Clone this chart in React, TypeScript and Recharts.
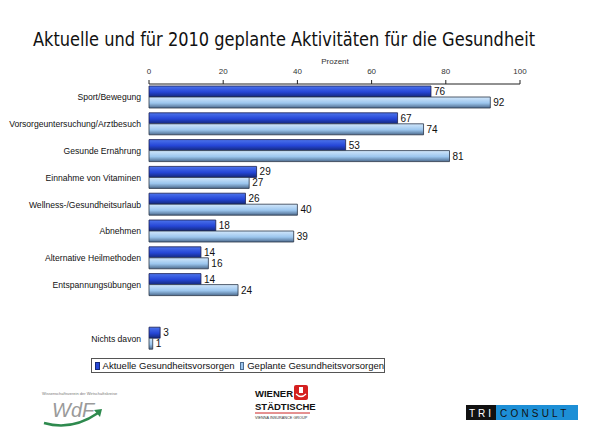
import React from "react";
import { BarChart, Bar, XAxis, YAxis, LabelList } from "recharts";

const categories = [
  "Sport/Bewegung",
  "Vorsorgeuntersuchung/Arztbesuch",
  "Gesunde Ernährung",
  "Einnahme von Vitaminen",
  "Wellness-/Gesundheitsurlaub",
  "Abnehmen",
  "Alternative Heilmethoden",
  "Entspannungsübungen",
  "",
  "Nichts davon",
];
const aktuelle: (number | null)[] = [76, 67, 53, 29, 26, 18, 14, 14, null, 3];
const geplante: (number | null)[] = [92, 74, 81, 27, 40, 39, 16, 24, null, 1];
const xTicks = [0, 20, 40, 60, 80, 100];
const seriesNames = ["Aktuelle Gesundheitsvorsorgen", "Geplante Gesundheitsvorsorgen"];
const title = "Aktuelle und für 2010 geplante Aktivitäten für die Gesundheit";
const axisTitle = "Prozent";

const data = categories.map((c, i) => ({ cat: c, a: aktuelle[i], g: geplante[i] }));

const font = "'Liberation Sans', Arial, sans-serif";

const YTick = (props: any) => {
  const { x, y, payload } = props;
  return (
    <text x={x} y={y} dy={3} textAnchor="end" fontSize={8.6} fill="#111" fontFamily={font}>
      {payload.value}
    </text>
  );
};

export default function App() {
  return (
    <div style={{ position: "absolute", left: 0, top: 0, width: 596, height: 433, background: "#fff", fontFamily: font }}>
      <BarChart
        width={596}
        height={433}
        data={data}
        layout="vertical"
        margin={{ top: 54, right: 76, bottom: 81, left: 0 }}
        barGap={0}
        barSize={11}
        style={{ position: "absolute", left: 0, top: 0 }}
      >
        <defs>
          <linearGradient id="gA" x1="0" y1="0" x2="0" y2="1">
            <stop offset="0%" stopColor="#4d74ec" />
            <stop offset="55%" stopColor="#2546d6" />
            <stop offset="100%" stopColor="#14287a" />
          </linearGradient>
          <linearGradient id="gG" x1="0" y1="0" x2="0" y2="1">
            <stop offset="0%" stopColor="#d2e7fb" />
            <stop offset="55%" stopColor="#9cc6ee" />
            <stop offset="100%" stopColor="#4d6b8e" />
          </linearGradient>
        </defs>
        <XAxis
          type="number"
          orientation="top"
          domain={[0, 100]}
          ticks={xTicks}
          height={30}
          tickSize={4}
          tickMargin={6}
          stroke="#222"
          tick={{ fontSize: 8, fill: "#333", fontFamily: font }}
        />
        <YAxis
          type="category"
          dataKey="cat"
          width={149}
          axisLine={false}
          tickLine={false}
          tick={<YTick />}
          interval={0}
        />
        <Bar dataKey="a" fill="url(#gA)" stroke="#1a2050" strokeWidth={0.8} isAnimationActive={false}>
          <LabelList dataKey="a" position="right" offset={3} fontSize={10} fill="#111" fontFamily={font} />
        </Bar>
        <Bar dataKey="g" fill="url(#gG)" stroke="#2a3548" strokeWidth={0.8} isAnimationActive={false}>
          <LabelList dataKey="g" position="right" offset={3} fontSize={10} fill="#111" fontFamily={font} />
        </Bar>
      </BarChart>
      <svg width={596} height={70} style={{ position: "absolute", left: 0, top: 0 }}>
        <text x={33} y={46} fontSize={20} fill="#111" fontFamily="'Liberation Sans Narrow', 'DejaVu Sans Condensed', 'Liberation Sans', sans-serif" textLength={502} lengthAdjust="spacingAndGlyphs">
          {title}
        </text>
        <text x={335} y={64} textAnchor="middle" fontSize={8} fill="#333" fontFamily={font}>
          {axisTitle}
        </text>
      </svg>
      <div
        style={{
          position: "absolute",
          left: 91,
          top: 358,
          width: 292,
          height: 13,
          border: "1px solid #555",
          fontSize: 9.5,
          lineHeight: "13px",
          display: "flex",
          alignItems: "center",
          whiteSpace: "nowrap",
          color: "#111",
        }}
      >
        <span style={{ display: "inline-block", width: 6, height: 6, background: "#2546d6", border: "1px solid #14287a", marginLeft: 3, marginRight: 3 }} />
        <span>{seriesNames[0]}</span>
        <span style={{ display: "inline-block", width: 6, height: 6, background: "#9cc6ee", border: "1px solid #4d6b8e", marginLeft: 5, marginRight: 3 }} />
        <span>{seriesNames[1]}</span>
      </div>
      <svg width={596} height={70} style={{ position: "absolute", left: 0, top: 363 }}>
        <text x={42} y={32} fontSize={4} fill="#777" fontFamily={font}>Wissenschaftsverein der Wirtschaftskreise</text>
        <text x={52} y={54} fontSize={20} fontStyle="italic" fill="#9a9a9a" fontFamily={font}>WdF</text>
        <path d="M 44 60 Q 72 68 98 50" stroke="#2e8a4e" strokeWidth={2.5} fill="none" />
        <path d="M 94 47 L 102 46 L 100 54 Z" fill="#2e8a4e" />
        <text x={255} y={34} fontSize={9.5} fontWeight="bold" fill="#111" fontFamily={font}>WIENER</text>
        <rect x={294} y={22} width={14} height={15} rx={2} fill="#d42020" />
        <rect x={299} y={24} width={4} height={6} fill="#fff" />
        <path d="M 296 31 Q 301 36 306 31" stroke="#fff" strokeWidth={1.2} fill="none" />
        <text x={255} y={47} fontSize={9.5} fontWeight="bold" fill="#111" fontFamily={font}>STÄDTISCHE</text>
        <line x1={255} y1={50} x2={310} y2={50} stroke="#c22" strokeWidth={1} />
        <text x={255} y={56} fontSize={3.8} fill="#333" fontFamily={font}>VIENNA INSURANCE GROUP</text>
        <rect x={466} y={42} width={30} height={15} fill="#111" />
        <text x={469} y={53.5} fontSize={10} fill="#fff" letterSpacing={3} fontFamily={font}>TRI</text>
        <rect x={496} y={42} width={82} height={15} fill="#1d8fd6" />
        <text x={500} y={53.5} fontSize={10} fill="#111" letterSpacing={3.2} fontFamily={font}>CONSULT</text>
      </svg>
    </div>
  );
}
